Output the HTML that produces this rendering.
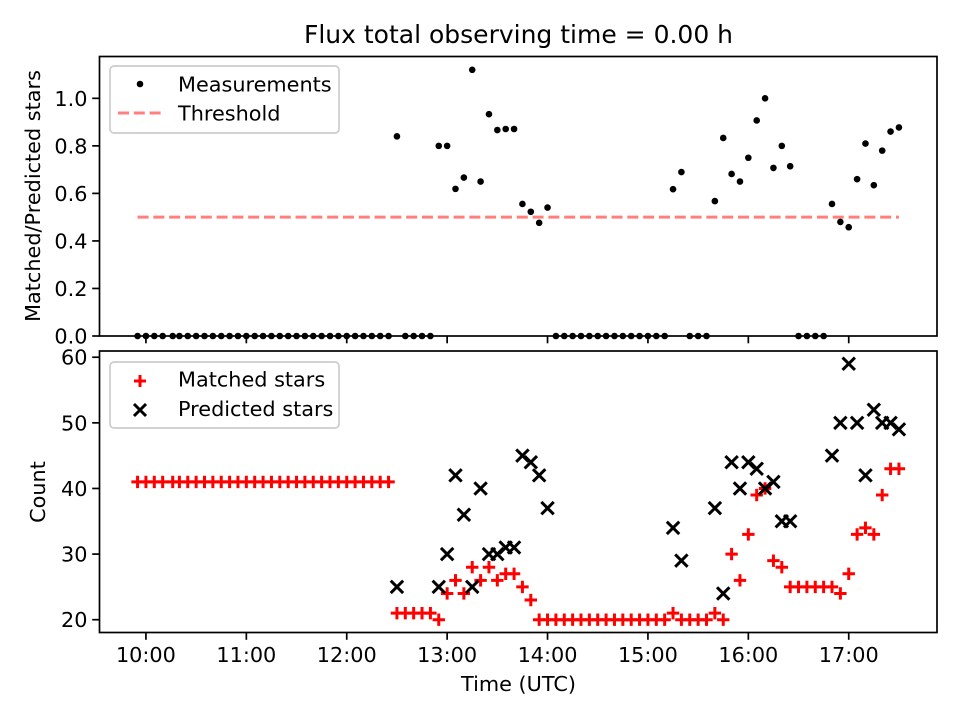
<!DOCTYPE html>
<html><head><meta charset="utf-8"><style>
html,body{margin:0;padding:0;background:#fff}
svg text{font-family:"DejaVu Sans","Liberation Sans",sans-serif;fill:#000}
</style></head><body>
<svg id="fig" width="960" height="720" viewBox="0 0 960 720" xmlns="http://www.w3.org/2000/svg">
<rect width="960" height="720" fill="#fff"/>
<text x="518.5" y="43" font-size="25" text-anchor="middle">Flux total observing time = 0.00 h</text>
<g id="topPanel"></g>
<g id="botPanel"></g>
<text transform="translate(40,196) rotate(-90)" font-size="20.8" text-anchor="middle">Matched/Predicted stars</text>
<text transform="translate(45,492) rotate(-90)" font-size="20.8" text-anchor="middle">Count</text>
<text x="518.5" y="691" font-size="20.8" text-anchor="middle">Time (UTC)</text>
</svg>
<script>
// minutes after 10:00 UTC
const times = [-5,0,5,10,16,20,25,30,35,40,45,50,55,60,65,70,75,80,85,90,95,100,105,110,115,120,125,130,135,140,145,
150,155,160,165,170,175,180,185,190,195,200,205,210,215,220,225,230,235,240,
245,250,255,260,265,270,275,280,285,290,295,300,305,310,
315,320,325,330,335,340,345,350,355,360,365,370,375,380,385,390,395,400,405,410,415,420,425,430,435,440,445,450];
const matched = [41,41,41,41,41,41,41,41,41,41,41,41,41,41,41,41,41,41,41,41,41,41,41,41,41,41,41,41,41,41,41,
21,21,21,21,21,20,24,26,24,28,26,28,26,27,27,25,23,20,20,
20,20,20,20,20,20,20,20,20,20,20,20,20,20,
21,20,20,20,20,21,20,30,26,33,39,40,29,28,25,25,25,25,25,25,24,27,33,34,33,39,43,43];
const N = null;
const predicted = [N,N,N,N,N,N,N,N,N,N,N,N,N,N,N,N,N,N,N,N,N,N,N,N,N,N,N,N,N,N,N,
25,N,N,N,N,25,30,42,36,25,40,30,30,31,31,45,44,42,37,
N,N,N,N,N,N,N,N,N,N,N,N,N,N,
34,29,N,N,N,37,24,44,40,44,43,40,41,35,35,N,N,N,N,45,50,59,50,42,52,50,50,49];
const threshold = 0.5;
const xTickLabels = ["10:00","11:00","12:00","13:00","14:00","15:00","16:00","17:00"];
const xTickValues = [0,60,120,180,240,300,360,420];
const topTicks = [0,0.2,0.4,0.6,0.8,1.0];
const botTicks = [20,30,40,50,60];

const NS="http://www.w3.org/2000/svg";
const L=99.5,R=937;
const T1=56.5,B1=336, T2=351,B2=632.5;
function mk(parent,tag,attrs){const e=document.createElementNS(NS,tag);for(const k in attrs)e.setAttribute(k,attrs[k]);parent.appendChild(e);return e;}
const ratio = times.map((t,i)=>predicted[i]===null?0:matched[i]/predicted[i]);
const tmin=Math.min(...times),tmax=Math.max(...times),tpad=(tmax-tmin)*0.05;
const xs=t=>L+(t-(tmin-tpad))/((tmax+tpad)-(tmin-tpad))*(R-L);
const rmax=Math.max(...ratio);const rTop=rmax*1.05;
const y1=v=>B1-v/rTop*(B1-T1);
const allC=matched.concat(predicted.filter(v=>v!==null));
const cmin=Math.min(...allC),cmax=Math.max(...allC),cp=(cmax-cmin)*0.05;
const y2=v=>B2-(v-(cmin-cp))/((cmax+cp)-(cmin-cp))*(B2-T2);

const gTop=document.getElementById('topPanel'),gBot=document.getElementById('botPanel');
const th=mk(gTop,'line',{x1:xs(tmin),x2:xs(tmax),y1:y1(threshold),y2:y1(threshold),stroke:'#ff7f7f','stroke-width':3,'stroke-dasharray':'11,4.8'});


times.forEach((t,i)=>{
  const c=mk(gTop,'circle',{cx:xs(t),cy:y1(ratio[i]),r:3.3,fill:'#000'});
  
  
});
times.forEach((t,i)=>{
  const cx=xs(t),cy=y2(matched[i]),s=6.2;
  const p=mk(gBot,'path',{d:`M${cx-s},${cy}H${cx+s}M${cx},${cy-s}V${cy+s}`,stroke:'#ff0000','stroke-width':3});
  
  
});
times.forEach((t,i)=>{
  if(predicted[i]===null)return;
  const cx=xs(t),cy=y2(predicted[i]),s=6.2;
  const p=mk(gBot,'path',{d:`M${cx-s},${cy-s}L${cx+s},${cy+s}M${cx-s},${cy+s}L${cx+s},${cy-s}`,stroke:'#000','stroke-width':3});
  
  
});
[[T1,B1,gTop],[T2,B2,gBot]].forEach(([a,b,g])=>{
  const r=mk(g,'rect',{x:L,y:a,width:R-L,height:b-a,fill:'none',stroke:'#000','stroke-width':1.7});
  
  
});
xTickValues.forEach((v,i)=>{
  mk(gTop,'line',{x1:xs(v),x2:xs(v),y1:B1,y2:B1+7.3,stroke:'#000','stroke-width':1.7});
  mk(gBot,'line',{x1:xs(v),x2:xs(v),y1:B2,y2:B2+7.3,stroke:'#000','stroke-width':1.7});
  const tx=mk(gBot,'text',{x:xs(v),y:B2+29.5,'font-size':20.8,'text-anchor':'middle'});
  tx.textContent=xTickLabels[i];
  
  
});
topTicks.forEach(v=>{
  mk(gTop,'line',{x1:L-7.3,x2:L,y1:y1(v),y2:y1(v),stroke:'#000','stroke-width':1.7});
  const tx=mk(gTop,'text',{x:L-12,y:y1(v)+7.5,'font-size':20.8,'text-anchor':'end'});
  tx.textContent=v.toFixed(1);
  
  
});
botTicks.forEach(v=>{
  mk(gBot,'line',{x1:L-7.3,x2:L,y1:y2(v),y2:y2(v),stroke:'#000','stroke-width':1.7});
  const tx=mk(gBot,'text',{x:L-12,y:y2(v)+7.5,'font-size':20.8,'text-anchor':'end'});
  tx.textContent=String(v);
  
  
});
function legend(g,y0,h,name){
  const r=mk(g,'rect',{x:110,y:y0,width:229,height:h,rx:4,fill:'#fff','fill-opacity':0.8,stroke:'#ccc','stroke-width':1.7});
  
  
}
legend(gTop,66,67,'top-legend');
mk(gTop,'circle',{cx:140,cy:84,r:3.3,fill:'#000'});
mk(gTop,'line',{x1:118,x2:161,y1:113,y2:113,stroke:'#ff7f7f','stroke-width':3,'stroke-dasharray':'11,4.8'});
let t1=mk(gTop,'text',{x:178,y:91.5,'font-size':20.8});t1.textContent='Measurements';


let t2=mk(gTop,'text',{x:178,y:120.5,'font-size':20.8});t2.textContent='Threshold';


legend(gBot,362,66,'bottom-legend');
mk(gBot,'path',{d:'M134,381H146M140,375V387',stroke:'#ff0000','stroke-width':3});
mk(gBot,'path',{d:'M134,404L146,416M134,416L146,404',stroke:'#000','stroke-width':3});
let t3=mk(gBot,'text',{x:178,y:386.5,'font-size':20.8});t3.textContent='Matched stars';


let t4=mk(gBot,'text',{x:178,y:416,'font-size':20.8});t4.textContent='Predicted stars';


</script>
</body></html>
